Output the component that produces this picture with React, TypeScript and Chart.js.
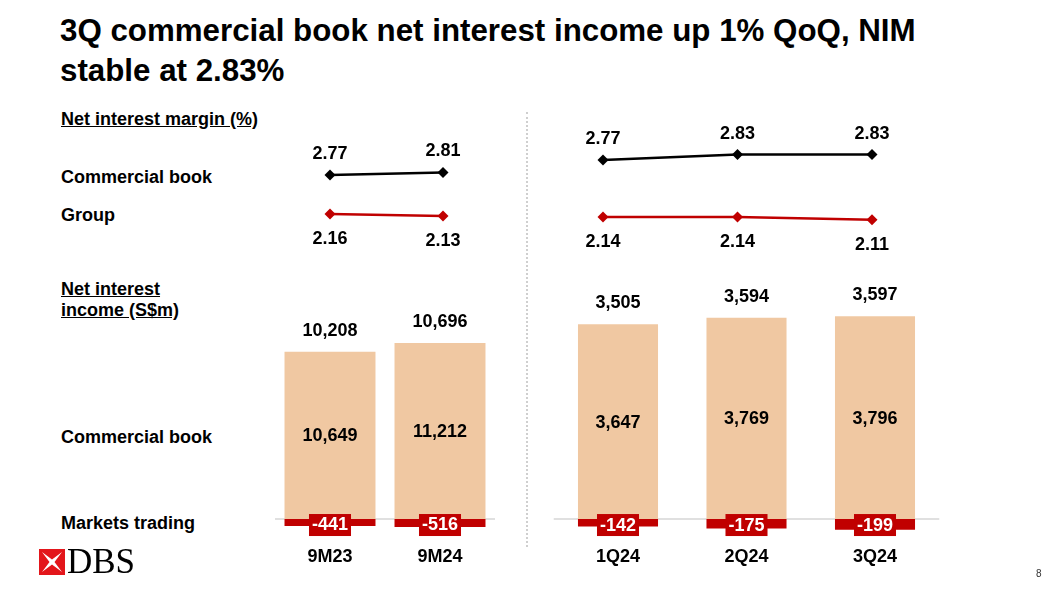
import React, { useEffect, useRef } from "react";
import { Chart, registerables } from "chart.js";

Chart.register(...registerables);

// ---------- data ----------
const periodsYtd = ["9M23", "9M24"];
const periodsQtr = ["1Q24", "2Q24", "3Q24"];

const nimCommercialYtd = [2.77, 2.81];
const nimGroupYtd = [2.16, 2.13];
const nimCommercialQtr = [2.77, 2.83, 2.83];
const nimGroupQtr = [2.14, 2.14, 2.11];

const niiCommercialYtd = [10649, 11212];
const niiTradingYtd = [-441, -516];
const niiCommercialQtr = [3647, 3769, 3796];
const niiTradingQtr = [-142, -175, -199];

// ---------- styles ----------
const FONT = '"Liberation Sans", Arial, Helvetica, sans-serif';
const PEACH = "#F0C8A2";
const RED = "#C00000";
const W = 1053;
const H = 592;
const LABEL_FONT = `bold 18px ${FONT}`;

const fmt = (v: number) => v.toLocaleString("en-US");

const barLabelPlugin = {
  id: "niiLabels",
  beforeDatasetsDraw(chart: any) {
    const { ctx, chartArea } = chart;
    const y0 = chart.scales.y.getPixelForValue(0);
    ctx.save();
    ctx.strokeStyle = "#d6d6d6";
    ctx.lineWidth = 1.5;
    ctx.beginPath();
    ctx.moveTo(chartArea.left, y0);
    ctx.lineTo(chartArea.right, y0);
    ctx.stroke();
    ctx.restore();
  },
  afterDatasetsDraw(chart: any) {
    const { ctx } = chart;
    const y0 = chart.scales.y.getPixelForValue(0);
    const m0 = chart.getDatasetMeta(0);
    const m1 = chart.getDatasetMeta(1);
    const d0 = chart.data.datasets[0].data as number[];
    const d1 = chart.data.datasets[1].data as number[];
    const labels = chart.data.labels as string[];
    ctx.save();
    ctx.font = LABEL_FONT;
    ctx.textAlign = "center";
    ctx.textBaseline = "middle";
    m0.data.forEach((bar: any, i: number) => {
      const x = bar.x;
      const top = bar.y;
      ctx.fillStyle = "#000";
      ctx.fillText(fmt(d0[i]), x, (top + y0) / 2 + 1);
      ctx.fillText(fmt(d0[i] + d1[i]), x, top - 21);
      ctx.fillText(labels[i], x, y0 + 38);
      // trading label box
      const t = fmt(d1[i]);
      const tw = ctx.measureText(t).width + 6;
      const bx = m1.data[i].x;
      ctx.fillStyle = RED;
      ctx.fillRect(bx - tw / 2, y0 - 5, tw, 22);
      ctx.fillStyle = "#fff";
      ctx.fillText(t, bx, y0 + 6.5);
    });
    ctx.restore();
  },
};

const lineLabelPlugin = {
  id: "nimLabels",
  afterDatasetsDraw(chart: any) {
    const { ctx } = chart;
    ctx.save();
    ctx.font = LABEL_FONT;
    ctx.textAlign = "center";
    ctx.textBaseline = "middle";
    ctx.fillStyle = "#000";
    chart.data.datasets.forEach((ds: any, di: number) => {
      const meta = chart.getDatasetMeta(di);
      meta.data.forEach((pt: any, i: number) => {
        const v = (ds.data[i] as number).toFixed(2);
        ctx.fillText(v, pt.x, di === 0 ? pt.y - 21 : pt.y + 25);
      });
    });
    ctx.restore();
  },
};

function barConfig(
  labels: string[],
  commercial: number[],
  trading: number[],
  yMin: number,
  yMax: number,
  padding: any,
  barPct: number
): any {
  return {
    type: "bar",
    data: {
      labels,
      datasets: [
        {
          label: "Commercial book",
          data: commercial,
          backgroundColor: PEACH,
          borderWidth: 0,
          barPercentage: barPct,
          categoryPercentage: 1,
        },
        {
          label: "Markets trading",
          data: trading,
          backgroundColor: RED,
          borderWidth: 0,
          barPercentage: barPct,
          categoryPercentage: 1,
        },
      ],
    },
    options: {
      responsive: false,
      animation: false,
      devicePixelRatio: 1,
      events: [],
      layout: { padding },
      plugins: { legend: { display: false }, tooltip: { enabled: false } },
      scales: {
        x: { display: false, stacked: true },
        y: { display: false, stacked: true, min: yMin, max: yMax },
      },
    },
    plugins: [barLabelPlugin],
  };
}

function lineConfig(labels: string[], commercial: number[], group: number[], padding: any): any {
  const ds = (label: string, data: number[], color: string) => ({
    label,
    data,
    borderColor: color,
    backgroundColor: color,
    borderWidth: 2.5,
    pointStyle: "rectRot",
    pointRadius: 5.5,
    pointBorderWidth: 0,
    tension: 0,
  });
  return {
    type: "line",
    data: {
      labels,
      datasets: [ds("Commercial book", commercial, "#000"), ds("Group", group, RED)],
    },
    options: {
      responsive: false,
      animation: false,
      devicePixelRatio: 1,
      events: [],
      layout: { padding },
      plugins: { legend: { display: false }, tooltip: { enabled: false } },
      scales: {
        x: { display: false, offset: true },
        y: { display: false, min: 1.8, max: 3.2 },
      },
    },
    plugins: [lineLabelPlugin],
  };
}

function ChartCanvas({ make }: { make: () => any }) {
  const ref = useRef<HTMLCanvasElement>(null);
  useEffect(() => {
    const chart = new Chart(ref.current as HTMLCanvasElement, make());
    return () => chart.destroy();
  }, []);
  return (
    <canvas
      ref={ref}
      width={W}
      height={H}
      style={{ position: "absolute", left: 0, top: 0, width: W, height: H }}
    />
  );
}

const labelStyle = (top: number, underline = false): React.CSSProperties => ({
  position: "absolute",
  left: 61,
  top,
  font: LABEL_FONT,
  lineHeight: "21px",
  color: "#000",
  textDecoration: underline ? "underline" : "none",
  whiteSpace: "nowrap",
});

export default function App() {
  return (
    <div
      style={{
        position: "fixed",
        left: 0,
        top: 0,
        width: W,
        height: H,
        background: "#fff",
        overflow: "hidden",
        fontFamily: FONT,
      }}
    >
      <div
        style={{
          position: "absolute",
          left: 60,
          top: 11,
          font: `bold 31.3px ${FONT}`,
          lineHeight: "40px",
          color: "#000",
          whiteSpace: "nowrap",
        }}
      >
        3Q commercial book net interest income up 1% QoQ, NIM
        <br />
        stable at 2.83%
      </div>

      <div style={labelStyle(109, true)}>Net interest margin (%)</div>
      <div style={labelStyle(167)}>Commercial book</div>
      <div style={labelStyle(205)}>Group</div>
      <div style={labelStyle(279, true)}>
        Net interest
        <br />
        income (S$m)
      </div>
      <div style={labelStyle(427)}>Commercial book</div>
      <div style={labelStyle(513)}>Markets trading</div>

      {/* dashed separator */}
      <div
        style={{
          position: "absolute",
          left: 526,
          top: 112,
          height: 435,
          width: 0,
          borderLeft: "2px dotted #cfcfcf",
        }}
      />

      <ChartCanvas
        make={() =>
          lineConfig(periodsYtd, nimCommercialYtd, nimGroupYtd, {
            left: 273.5,
            right: 553.5,
            top: 147.5,
            bottom: 354.9,
          })
        }
      />
      <ChartCanvas
        make={() =>
          lineConfig(periodsQtr, nimCommercialQtr, nimGroupQtr, {
            left: 535.75,
            right: 113.75,
            top: 121.1,
            bottom: 344.2,
          })
        }
      />
      <ChartCanvas
        make={() =>
          barConfig(periodsYtd, niiCommercialYtd, niiTradingYtd, -1400, 15000, {
            left: 275,
            right: 558,
            top: 283.5,
            bottom: 51,
          }, 0.827)
        }
      />
      <ChartCanvas
        make={() =>
          barConfig(periodsQtr, niiCommercialQtr, niiTradingQtr, -400, 4500, {
            left: 553.75,
            right: 113.75,
            top: 278.7,
            bottom: 51.6,
          }, 0.623)
        }
      />

      {/* DBS logo */}
      <svg
        style={{ position: "absolute", left: 39, top: 549 }}
        width={26}
        height={26}
        viewBox="0 0 26 26"
      >
        <rect x={0} y={0} width={26} height={26} fill="#E3161B" />
        <polygon points="3,3 13,10.5 23,3 15.5,13 23,23 13,15.5 3,23 10.5,13" fill="#fff" />
      </svg>
      <div
        style={{
          position: "absolute",
          left: 67,
          top: 542,
          font: `35px "Liberation Serif", "DejaVu Serif", serif`,
          lineHeight: "40px",
          color: "#000",
        }}
      >
        DBS
      </div>
      <div
        style={{
          position: "absolute",
          left: 1036,
          top: 568,
          font: `10px ${FONT}`,
          color: "#333",
        }}
      >
        8
      </div>
    </div>
  );
}
